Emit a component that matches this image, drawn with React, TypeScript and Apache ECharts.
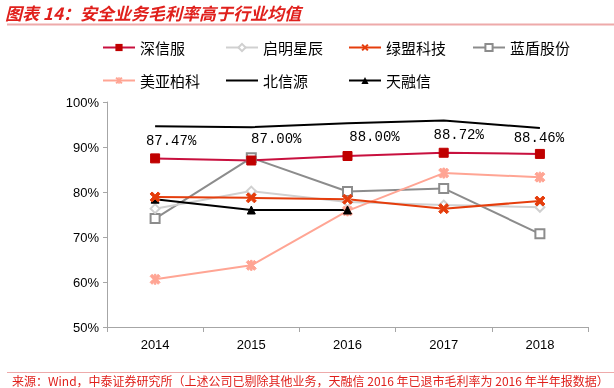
import React, { useEffect, useRef } from "react";
import * as echarts from "echarts";

const years = ["2014", "2015", "2016", "2017", "2018"];
const sangfor = [87.47, 87.0, 88.0, 88.72, 88.46];
const venus = [76.3, 80.2, 77.8, 77.1, 76.6];
const nsfocus = [78.9, 78.7, 78.4, 76.3, 78.0];
const bluedon = [74.1, 87.6, 80.1, 80.8, 70.7];
const meiya = [60.6, 63.7, 75.8, 84.2, 83.3];
const vrv = [94.6, 94.4, 95.3, 95.9, 94.2];
const topsec = [78.4, 76.0, 76.0, null, null];
const seriesNames = ["深信服", "启明星辰", "绿盟科技", "蓝盾股份", "美亚柏科", "北信源", "天融信"];
const titleText = "图表 14：安全业务毛利率高于行业均值";
const sourceText = "来源：Wind，中泰证券研究所（上述公司已剔除其他业务，天融信 2016 年已退市毛利率为 2016 年半年报数据）";

const labelOffsets = [[16, 0], [25, -5], [27, -2], [15, -1], [-1, 1]];

const X_PATH = "path://M2,0 L5,3 L8,0 L10,2 L7,5 L10,8 L8,10 L5,7 L2,10 L0,8 L3,5 L0,2 Z";
const STAR_PATH = "path://M2,0 L5,3 L8,0 L10,2 L7,5 L10,8 L8,10 L5,7 L2,10 L0,8 L3,5 L0,2 Z M4.2,0 L5.8,0 L5.8,10 L4.2,10 Z";

export default function App() {
  const ref = useRef<HTMLDivElement>(null);
  useEffect(() => {
    const chart = echarts.init(ref.current!, null, { renderer: "svg" });
    const font = "'Liberation Sans', Arial, sans-serif";
    const cjk = "'Noto Sans CJK SC', sans-serif";
    const legendPos = [
      [102, 40], [225, 40], [348, 40], [472, 40],
      [102, 73], [225, 73], [348, 73],
    ];
    const legends = seriesNames.map((n, i) => ({
      data: [n],
      left: legendPos[i][0],
      top: legendPos[i][1],
      padding: 0,
      itemWidth: 32,
      itemHeight: 9,
      itemGap: 0,
      ...(n === "北信源" ? { itemStyle: { opacity: 0 } } : {}),
      textStyle: { fontSize: 15, color: "#000", fontFamily: cjk },
    }));
    const mk = (name: string, data: any[], color: string, extra: any) => ({
      name,
      type: "line",
      data,
      lineStyle: { color, width: 2 },
      itemStyle: { color, borderColor: color },
      ...extra,
    });
    chart.setOption({
      animation: false,
      legend: legends,
      grid: { left: 107, right: 26, top: 102, bottom: 61 },
      xAxis: {
        type: "category",
        data: years,
        axisLine: { lineStyle: { color: "#a6a6a6", width: 1 } },
        axisTick: { show: true, length: 5, lineStyle: { color: "#a6a6a6" } },
        axisLabel: { fontSize: 13, color: "#000", fontFamily: font, margin: 11 },
      },
      yAxis: {
        type: "value",
        min: 50,
        max: 100,
        interval: 10,
        splitLine: { show: false },
        axisLine: { show: true, lineStyle: { color: "#a6a6a6", width: 1 } },
        axisTick: { show: true, length: 4, lineStyle: { color: "#a6a6a6" } },
        axisLabel: { fontSize: 13, color: "#000", fontFamily: font, formatter: "{value}%", margin: 8 },
      },
      series: [
        mk("北信源", vrv, "#000000", { symbol: "none" }),
        mk("蓝盾股份", bluedon, "#8c8c8c", {
          symbol: "emptyRect", symbolSize: 9,
          itemStyle: { color: "#8c8c8c", borderWidth: 2 },
        }),
        mk("启明星辰", venus, "#d0d0d0", {
          symbol: "emptyDiamond", symbolSize: 9,
          itemStyle: { color: "#d0d0d0", borderWidth: 2 },
        }),
        mk("美亚柏科", meiya, "#ffa594", { symbol: STAR_PATH, symbolSize: 10 }),
        mk("天融信", topsec, "#000000", { symbol: "triangle", symbolSize: 8 }),
        mk("绿盟科技", nsfocus, "#e53d0c", { symbol: X_PATH, symbolSize: 10 }),
        {
          name: "深信服",
          type: "line",
          data: sangfor.map((v, i) => ({
            value: v,
            label: { offset: labelOffsets[i] },
          })),
          symbol: "rect",
          symbolSize: 9,
          lineStyle: { color: "#c8103e", width: 2 },
          itemStyle: { color: "#c00000", borderColor: "#c00000" },
          label: {
            show: true,
            position: "top",
            distance: 5,
            fontSize: 14,
            color: "#000",
            fontFamily: "'Liberation Mono', 'DejaVu Sans Mono', monospace",
            formatter: (p: any) => p.value.toFixed(2) + "%",
          },
        },
      ],
      graphic: [
        {
          type: "text",
          left: 5,
          top: 4,
          style: {
            text: titleText,
            fill: "#e0201c",
            font: "italic bold 17px 'Noto Sans CJK SC', sans-serif",
          },
        },
        {
          type: "line",
          shape: { x1: 7, y1: 24.5, x2: 614, y2: 24.5 },
          style: { stroke: "#eeaaaa", lineWidth: 2 },
        },
        {
          type: "line",
          shape: { x1: 7, y1: 372.5, x2: 614, y2: 372.5 },
          style: { stroke: "#eeaaaa", lineWidth: 1 },
        },
        {
          type: "text",
          left: 12,
          top: 374,
          style: {
            text: sourceText,
            fill: "#e0201c",
            font: "12px 'Noto Sans CJK SC', sans-serif",
          },
        },
      ],
    });
    return () => chart.dispose();
  }, []);
  return <div ref={ref} style={{ width: 614, height: 388, position: "fixed", left: 0, top: 0 }} />;
}
